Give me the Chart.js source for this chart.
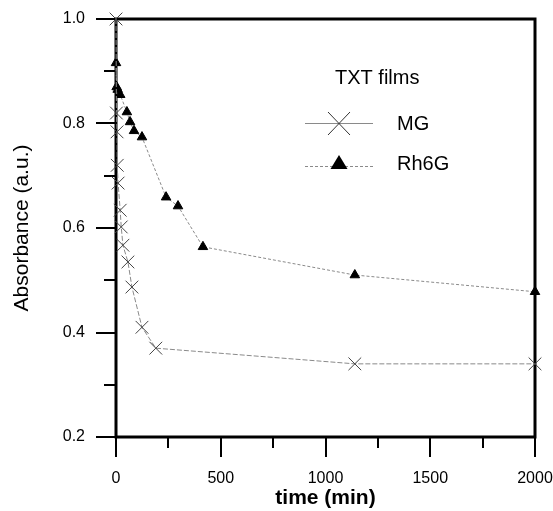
<!DOCTYPE html>
<html>
<head>
<meta charset="utf-8">
<script src="https://cdn.jsdelivr.net/npm/chart.js@4/dist/chart.umd.min.js"></script>
<style>
html,body{margin:0;padding:0;background:#fff;}
#wrap{width:553px;height:511px;position:relative;}
</style>
</head>
<body>
<div id="wrap"><canvas id="c" width="553" height="511"></canvas></div>
<script>
// ---- data ----
const mgTime = [0, 2, 5, 6, 10, 20, 25, 33, 57, 76, 124, 190, 1140, 2000];
const mgAbs  = [1.0, 0.82, 0.784, 0.72, 0.686, 0.634, 0.602, 0.567, 0.535, 0.487, 0.41, 0.37, 0.34, 0.34];
const rhTime = [0, 3, 8, 20, 52, 67, 86, 124, 239, 296, 415, 1140, 2000];
const rhAbs  = [0.916, 0.87, 0.865, 0.855, 0.822, 0.803, 0.786, 0.774, 0.659, 0.642, 0.564, 0.51, 0.478];
const seriesNames = ['MG', 'Rh6G'];
const legendTitle = 'TXT films';
const xTitle = 'time (min)';
const yTitle = 'Absorbance (a.u.)';
const xMajorTicks = [0, 500, 1000, 1500, 2000];
const yMajorTicks = [0.2, 0.4, 0.6, 0.8, 1.0];

const toPts = (xs, ys) => xs.map((x, i) => ({x: x, y: ys[i]}));
const FAM = '"Liberation Sans", Arial, sans-serif';

const frameAndTicks = {
  id: 'frameAndTicks',
  beforeDatasetsDraw(chart) {
    const {ctx, chartArea: a, scales} = chart;
    ctx.save();
    ctx.strokeStyle = '#000';
    ctx.lineWidth = 2;
    [250, 750, 1250, 1750].forEach(v => {
      const px = Math.round(scales.x.getPixelForValue(v));
      ctx.beginPath(); ctx.moveTo(px, a.bottom); ctx.lineTo(px, a.bottom + 11); ctx.stroke();
    });
    [0.3, 0.5, 0.7, 0.9].forEach(v => {
      const py = Math.round(scales.y.getPixelForValue(v));
      ctx.beginPath(); ctx.moveTo(a.left, py); ctx.lineTo(a.left - 12, py); ctx.stroke();
    });
    ctx.lineWidth = 3;
    ctx.strokeRect(a.left, a.top, a.right - a.left, a.bottom - a.top);
    ctx.restore();
  },
  afterDraw(chart) {
    const ctx = chart.ctx;
    ctx.save();
    ctx.fillStyle = '#000';
    ctx.font = '20px ' + FAM;
    ctx.textBaseline = 'middle';
    ctx.fillText(legendTitle, 335, 78);
    ctx.fillText(seriesNames[0], 397, 124);
    ctx.fillText(seriesNames[1], 397, 164);
    ctx.strokeStyle = '#8a8a8a';
    ctx.lineWidth = 1;
    ctx.beginPath(); ctx.moveTo(305, 123.5); ctx.lineTo(373, 123.5); ctx.stroke();
    ctx.strokeStyle = '#333';
    ctx.beginPath();
    ctx.moveTo(328, 112); ctx.lineTo(350, 135);
    ctx.moveTo(350, 112); ctx.lineTo(328, 135);
    ctx.stroke();
    ctx.strokeStyle = '#8a8a8a';
    ctx.setLineDash([3, 2]);
    ctx.beginPath(); ctx.moveTo(305, 166.5); ctx.lineTo(373, 166.5); ctx.stroke();
    ctx.setLineDash([]);
    ctx.fillStyle = '#000';
    ctx.beginPath();
    ctx.moveTo(339, 155); ctx.lineTo(347.5, 169); ctx.lineTo(330.5, 169); ctx.closePath();
    ctx.fill();
    ctx.restore();
  }
};

new Chart(document.getElementById('c'), {
  type: 'scatter',
  data: {
    datasets: [
      {
        label: seriesNames[0],
        data: toPts(mgTime, mgAbs),
        showLine: true,
        borderColor: '#8a8a8a',
        borderWidth: 1,
        borderDash: [5, 2],
        tension: 0,
        pointStyle: 'crossRot',
        pointRadius: 9,
        pointBorderWidth: 1,
        pointBorderColor: '#444',
        pointBackgroundColor: '#444',
        clip: false
      },
      {
        label: seriesNames[1],
        data: toPts(rhTime, rhAbs),
        showLine: true,
        borderColor: '#8a8a8a',
        borderWidth: 1,
        borderDash: [3, 2],
        tension: 0,
        pointStyle: 'triangle',
        pointRadius: 5.5,
        pointBorderWidth: 1,
        pointBorderColor: '#000',
        pointBackgroundColor: '#000',
        clip: false
      }
    ]
  },
  options: {
    responsive: false,
    animation: false,
    devicePixelRatio: 1,
    layout: {padding: {top: 19, right: 18, left: 0, bottom: 0}},
    plugins: {legend: {display: false}, tooltip: {enabled: false}},
    scales: {
      x: {
        type: 'linear', min: 0, max: 2000,
        border: {display: false},
        grid: {drawOnChartArea: false, tickLength: 20, lineWidth: 2, color: '#000',
               tickColor: '#000'},
        afterBuildTicks: s => { s.ticks = xMajorTicks.map(v => ({value: v})); },
        afterFit: s => { s.height = 74; s.paddingLeft = 0; s.paddingRight = 0; },
        ticks: {padding: 12, color: '#000', maxRotation: 0,
                font: {family: FAM, size: 16},
                callback: v => String(v)},
        title: {display: true, text: xTitle, color: '#000', padding: {top: -2, bottom: 0},
                font: {family: FAM, size: 21, weight: 'bold'}}
      },
      y: {
        type: 'linear', min: 0.2, max: 1.0,
        border: {display: false},
        grid: {drawOnChartArea: false, tickLength: 20, lineWidth: 2, color: '#000',
               tickColor: '#000'},
        afterBuildTicks: s => { s.ticks = yMajorTicks.map(v => ({value: v})); },
        afterFit: s => { s.width = 116; s.paddingTop = 0; s.paddingBottom = 0; },
        ticks: {padding: 11, color: '#000',
                font: {family: FAM, size: 16},
                callback: v => Number(v).toFixed(1)},
        title: {display: true, text: yTitle, color: '#000', padding: {top: 10, bottom: 0},
                font: {family: FAM, size: 21}}
      }
    }
  },
  plugins: [frameAndTicks]
});
</script>
</body>
</html>
